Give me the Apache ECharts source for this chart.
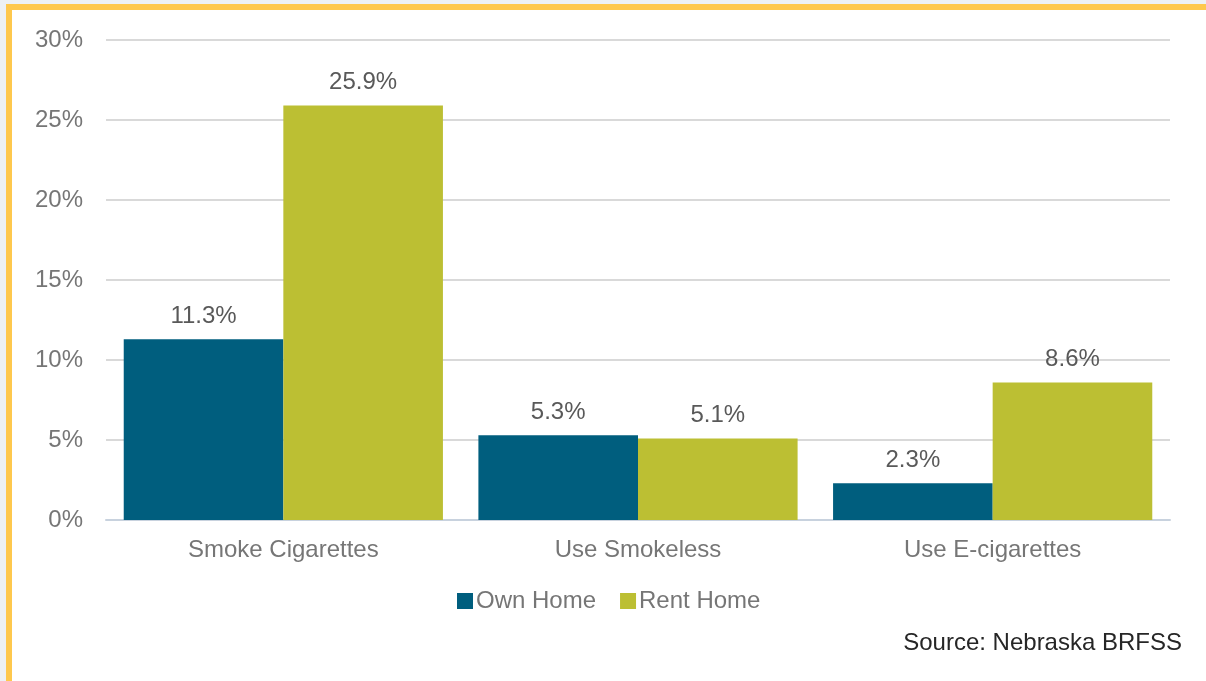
<!DOCTYPE html>
<html><head><meta charset="utf-8">
<script src="https://cdn.jsdelivr.net/npm/echarts@6/dist/echarts.min.js"></script>
<style>
html,body{margin:0;padding:0;width:1206px;height:681px;overflow:hidden;background:#edf1f4;}
#frame{position:absolute;left:6px;top:4px;width:1200px;height:677px;background:#fff;border-left:6px solid #fec84d;border-top:6px solid #fec84d;box-sizing:border-box;}
#chart{position:absolute;left:0;top:0;width:1206px;height:681px;}
</style></head>
<body>
<div id="frame"></div>
<div id="chart"></div>
<script>
const categories = ['Smoke Cigarettes', 'Use Smokeless', 'Use E-cigarettes'];
const ownHome = [11.3, 5.3, 2.3];
const rentHome = [25.9, 5.1, 8.6];
const seriesNames = ['Own Home', 'Rent Home'];
const sourceText = 'Source: Nebraska BRFSS';

const FONT = 'Liberation Sans, Arial';
const chart = echarts.init(document.getElementById('chart'), null, {renderer: 'canvas'});
const labelStyle = {show: true, position: 'top', distance: 11, color: '#595959', fontSize: 24, fontFamily: FONT, formatter: p => p.value.toFixed(1) + '%'};
chart.setOption({
  backgroundColor: 'transparent',
  animation: false,
  grid: {left: 106, right: 36, top: 40, bottom: 161, containLabel: false},
  legend: {
    data: seriesNames, left: 457, top: 589, padding: 0, itemWidth: 16, itemHeight: 16, itemGap: 24,
    icon: 'rect', textStyle: {color: '#767676', fontSize: 24, fontFamily: FONT, padding: [0, 0, 0, -2]}
  },
  xAxis: {
    type: 'category', data: categories,
    axisLine: {lineStyle: {color: '#c8d2de', width: 2}},
    axisTick: {show: false},
    axisLabel: {color: '#767676', fontSize: 24, margin: 18, fontFamily: FONT}
  },
  yAxis: {
    type: 'value', min: 0, max: 30, interval: 5,
    axisLine: {show: false}, axisTick: {show: false},
    splitLine: {lineStyle: {color: '#d9d9d9', width: 2}},
    axisLabel: {color: '#767676', fontSize: 24, margin: 23, formatter: '{value}%', fontFamily: FONT}
  },
  series: [
    {name: seriesNames[0], type: 'bar', data: ownHome, barGap: '0%', barCategoryGap: '10%', itemStyle: {color: '#005e7e'}, label: labelStyle},
    {name: seriesNames[1], type: 'bar', data: rentHome, barGap: '0%', barCategoryGap: '10%', itemStyle: {color: '#bcbf33'}, label: labelStyle}
  ],
  graphic: [{
    type: 'text', right: 24, top: 631,
    style: {text: sourceText, fill: '#262626', fontSize: 24, fontFamily: FONT}
  }]
});
</script>
</body></html>
